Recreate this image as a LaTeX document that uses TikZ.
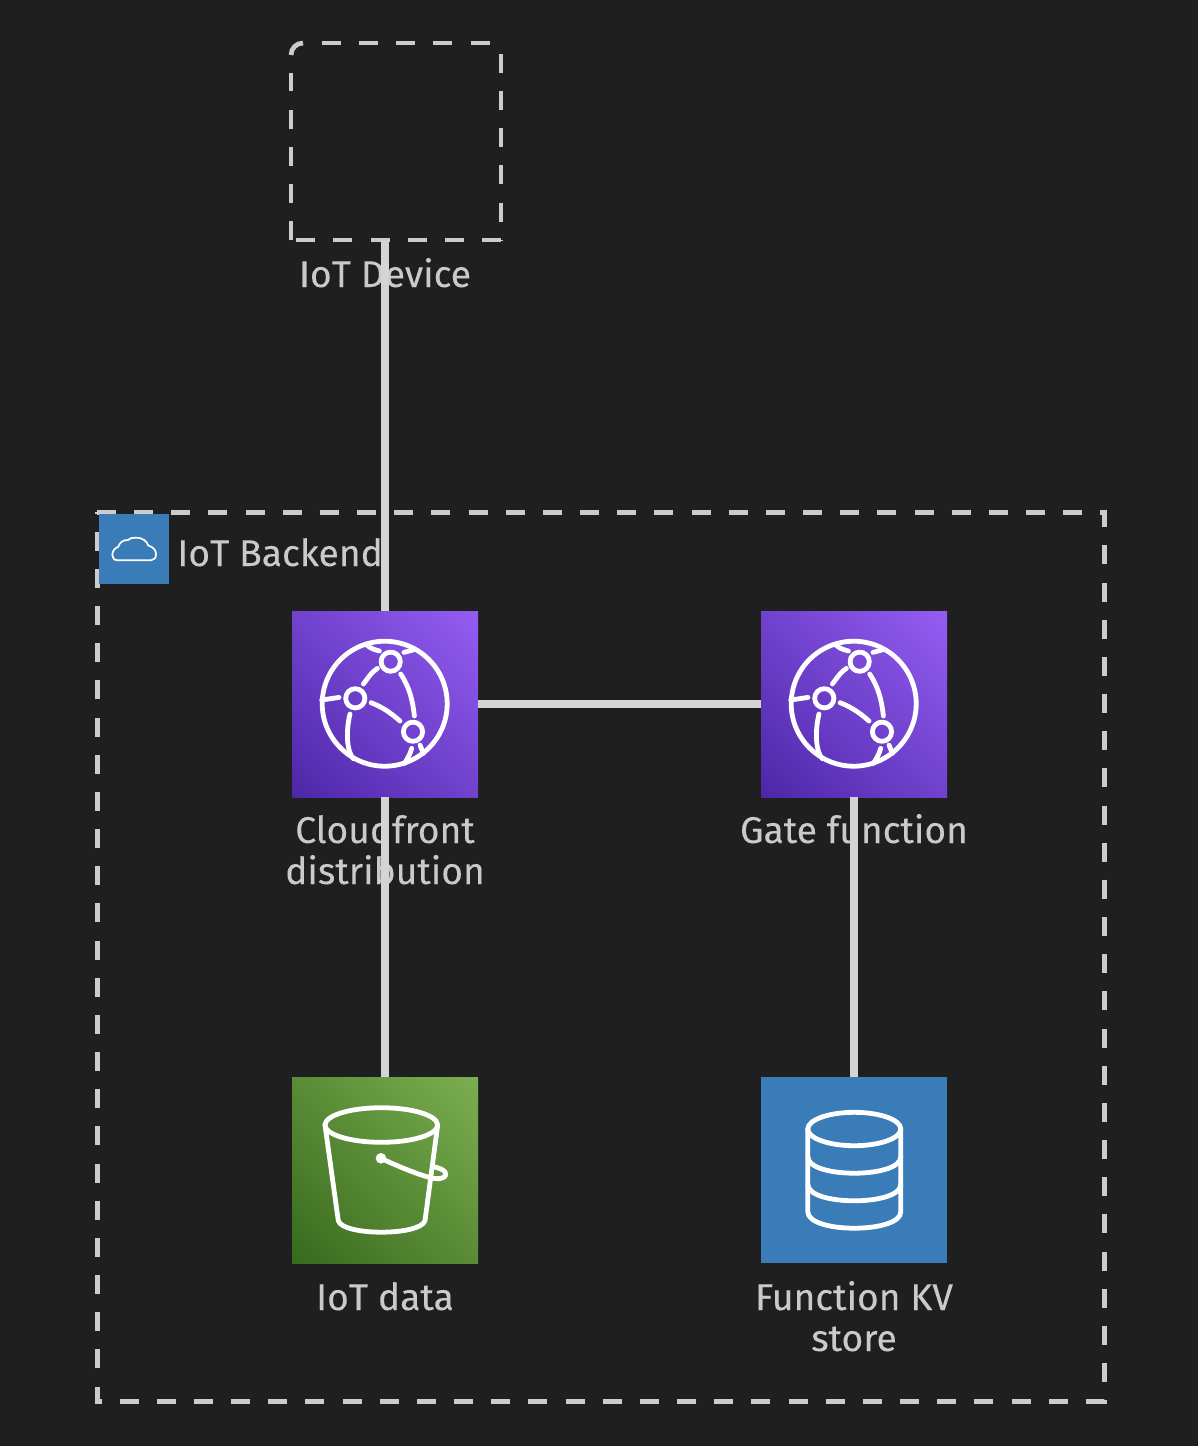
\documentclass[tikz,border=0pt]{standalone}
\usepackage{fontspec}
\setmainfont{Fira Sans}
\newfontfamily\lblfont[FakeBold=0.12]{Fira Sans}
\definecolor{bgc}{HTML}{1F1F1F}
\definecolor{dashc}{HTML}{CCCCCC}
\definecolor{linec}{HTML}{D4D4D4}
\definecolor{txtc}{HTML}{CACACA}
\definecolor{blueic}{HTML}{3A7CB8}
\definecolor{purpA}{HTML}{4D27A8}
\definecolor{purpB}{HTML}{945DF2}
\definecolor{grnA}{HTML}{386A1E}
\definecolor{grnB}{HTML}{7CAE50}
\pgfdeclareverticalshading{purpdiag}{100bp}{color(0bp)=(purpA);color(14.64bp)=(purpA);color(85.36bp)=(purpB);color(100bp)=(purpB)}
\pgfdeclareverticalshading{grndiag}{100bp}{color(0bp)=(grnA);color(14.64bp)=(grnA);color(85.36bp)=(grnB);color(100bp)=(grnB)}
\tikzset{
  iconbox/.style={minimum size=93pt,inner sep=0pt,outer sep=0pt,draw=none},
  purpbox/.style={iconbox,shade,shading=purpdiag,shading angle=-45},
  grnbox/.style={iconbox,shade,shading=grndiag,shading angle=-45},
  bluebox/.style={iconbox,fill=blueic},
  lbl/.style={text=txtc,font=\lblfont\fontsize{18.6pt}{20.5pt}\selectfont,align=center,inner sep=0pt,anchor=base},
  conn/.style={draw=linec,line width=3.65pt},
  dashline/.style={draw=dashc,line width=2.5pt,dash pattern=on 9.5pt off 9.08pt},
  glyph/.style={draw=white,line width=2.4pt,line cap=round,line join=round},
  pics/globe/.style={code={
    \draw[glyph] (0,0) circle (62.5);
    \draw[glyph] (6,-42) circle (9.6);
    \draw[glyph] (-29.4,-5.4) circle (9.6);
    \draw[glyph] (28.3,28) circle (9.6);
    \draw[glyph] (-18,-58.7) .. controls (-13,-55) .. (-5.3,-52.7);
    \draw[glyph] (19.3,-51.3) .. controls (24,-53) .. (30.3,-54.3);
    \draw[glyph] (-7.3,-35.3) .. controls (-13,-31) .. (-21.3,-19.7);
    \draw[glyph] (16,-29.7) .. controls (25,-16) and (28,-3) .. (29.7,12.3);
    \draw[glyph] (-45.7,-6.3) -- (-63,-3.7);
    \draw[glyph] (-34.7,10.3) .. controls (-39,28) and (-38,48) .. (-31.3,55);
    \draw[glyph] (-13.7,-1) .. controls (-3,3) and (6,9) .. (15.3,17.3);
    \draw[glyph] (27,44.7) .. controls (25,51) .. (19.7,59.7);
    \draw[glyph] (35.3,41.3) -- (38.7,49.7);
  }},
  pics/bucket/.style={code={
    \draw[glyph] (-3.7,-45) ellipse (56.3 and 17.3);
    \draw[glyph] (-60,-45) -- (-46.7,50.7) .. controls (-42,66) and (35,66) .. (40,50.7) -- (52.7,-45);
    \fill[white] (-4,-11.7) circle (5.3);
    \draw[glyph] (-4,-11.7) .. controls (10,-5) and (38,7) .. (50,8.5)
      .. controls (58,9.5) and (63,6) .. (60,2) .. controls (58,-1) and (53,-2) .. (48,-3.5);
  }},
  pics/dbase/.style={code={
    \draw[glyph] (0.3,-41) ellipse (46.5 and 16.7);
    \draw[glyph] (-46.2,-41) -- (-46.2,41.7) .. controls (-46.2,63.7) and (46.8,63.7) .. (46.8,41.7) -- (46.8,-41);
    \draw[glyph] (-46.2,-13.3) .. controls (-46.2,8.7) and (46.8,8.7) .. (46.8,-13.3);
    \draw[glyph] (-46.2,14.3) .. controls (-46.2,36.3) and (46.8,36.3) .. (46.8,14.3);
  }},
  pics/smallcloud/.style={code={
    \draw[draw=white,line width=0.85pt,line join=round]
      (-15.7,11.3) .. controls (-20,11.3) and (-21.7,9) .. (-21.7,6)
      .. controls (-21.7,2) and (-19,-1) .. (-15.7,-2.3)
      .. controls (-14,-7) and (-11,-9) .. (-6,-9)
      .. controls (-3,-11.3) and (-1,-11.3) .. (2.7,-11.3)
      .. controls (8,-11.3) and (13,-8) .. (14.3,-3.5)
      .. controls (19,-2) and (22,1) .. (22,5)
      .. controls (22,9) and (20,11.3) .. (17,11.3) -- cycle;
  }}
}
\begin{document}
\begin{tikzpicture}[x=0.5pt,y=-0.5pt]
\useasboundingbox (0,0) rectangle (1198,1446);
\fill[bgc] (0,0) rectangle (1198,1446);
% labels (below connectors)
\node[lbl] (devlbl) at (385,287) {IoT Device};
\node[lbl] (cflbl) at (385,884) {Cloudfront\\distribution};
\node[lbl] (gatelbl) at (854,843) {Gate function};
\node[lbl] (s3lbl) at (385,1310) {IoT data};
\node[lbl] (kvlbl) at (854,1351) {Function KV\\store};
% cluster
\draw[dashline,line join=miter] (97,512) -- (1104,512) -- (1104,1401) -- (97,1401) -- cycle;
\node[lbl,anchor=base west] (clbl) at (177,566) {IoT Backend};
% device box
\coordinate (devS) at (385,240);
\draw[dashline,line width=2.35pt] (322,43) -- (501,43);
\draw[dashline,line width=2.35pt] (501,54) -- (501,240);
\draw[dashline,line width=2.35pt] (501,240) -- (291,240);
\draw[dashline,line width=2.35pt] (291,240) -- (291,73);
\draw[draw=dashc,line width=2.35pt] (291,55) arc (180:270:12);
% icon nodes
\node[purpbox] (cf) at (385,704) {};
\node[purpbox] (gate) at (854,704) {};
\node[grnbox] (s3) at (385,1170) {};
\node[bluebox] (kv) at (854,1170) {};
\node[minimum size=35pt,inner sep=0pt,fill=blueic] (cloudicon) at (134,549) {};
% connectors
\draw[conn] (devS) -- (cf.north);
\draw[conn] (cf.east) -- (gate.west);
\draw[conn] (cf.south) -- (s3.north);
\draw[conn] (gate.south) -- (kv.north);
% glyphs
\pic at (384.7,703.7) {globe};
\pic at (853.7,703.7) {globe};
\pic at (385,1170) {bucket};
\pic at (854,1170) {dbase};
\pic at (134,549) {smallcloud};
\end{tikzpicture}
\end{document}
